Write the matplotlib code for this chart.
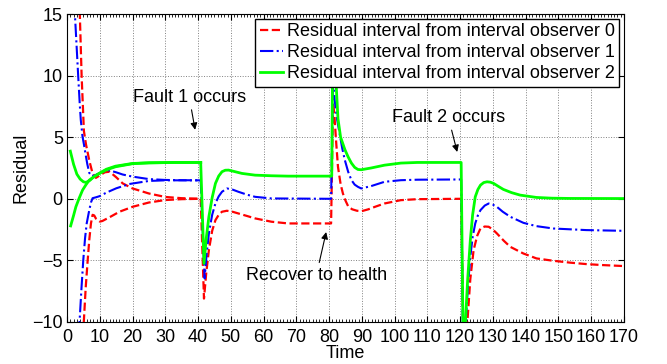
import matplotlib
matplotlib.use('Agg')
from matplotlib import pyplot as plt
from matplotlib.ticker import MultipleLocator

plt.rcParams['font.family'] = ['Liberation Sans', 'DejaVu Sans']
plt.rcParams['font.size'] = 13

# observer 0 (red) - interval bounds before fault 1
t_r_up = [3.5, 3.9, 4.45, 5.15, 5.8, 6.8, 7.8, 8.8, 10, 11.5, 13, 15, 17, 20, 25, 30, 35, 40.8]
r_up = [16.5, 15, 10, 5.5, 4.4, 3.1, 2.06, 1.7, 1.9, 2.15, 2.2, 1.75, 1.25, 0.84, 0.43, 0.15, 0.05, 0.0]
t_r_lo = [4.9, 5.2, 5.7, 6.3, 6.8, 7.3, 7.8, 8.3, 8.8, 10, 10.8, 13.3, 16, 20, 25, 30, 35, 40.8]
r_lo = [-11, -9.6, -7.2, -5.0, -3.3, -2.0, -1.3, -1.35, -1.6, -1.85, -1.8, -1.45, -1.05, -0.65, -0.3, -0.1, -0.03, 0.0]
# observer 0 after bounds merge
t_r = [40.8, 41.8, 42.5, 43.3, 44.3, 45.3, 46.3, 47.3, 48.8, 50.5, 52.3, 55, 57.4, 62.4, 67.5, 80.6,
       81.2, 81.6, 82.2, 82.7, 83.5, 84.2, 85, 85.8, 87, 88.5, 90, 92, 94, 96.9, 101.9, 106.9, 120.3,
       121.2, 122.2, 123.1, 124.1, 125.2, 126.2, 127.5, 128.7, 130, 131.2, 133.3, 135.3, 139.3, 143.3,
       148.4, 153.5, 158.5, 163.5, 170]
r = [0.0, -8.1, -6.0, -4.16, -2.6, -1.73, -1.3, -1.05, -0.97, -1.05, -1.19, -1.4, -1.59, -1.86, -2.0, -2.0,
     7.8, 6.8, 4.4, 2.6, 1.2, 0.44, -0.15, -0.6, -0.85, -0.97, -1.0, -0.85, -0.65, -0.38, -0.11, -0.03, 0.0,
     -15, -10, -6.5, -4.16, -3.0, -2.4, -2.25, -2.27, -2.5, -2.81, -3.4, -3.9, -4.44, -4.84,
     -5.03, -5.18, -5.3, -5.38, -5.46]

# observer 1 (blue)
t_b_up = [2.0, 2.4, 2.9, 3.4, 3.9, 4.2, 4.7, 5.3, 5.8, 6.2, 6.8, 7.5, 8.5, 10, 12, 13, 15, 17, 20, 25, 30, 35, 40.8]
b_up = [16, 15, 12.5, 10, 7.6, 6.4, 5.1, 4.2, 3.4, 2.8, 2.1, 1.85, 1.9, 2.1, 2.3, 2.3, 2.15, 1.97, 1.8, 1.6, 1.53, 1.51, 1.5]
t_b_lo = [3.6, 3.9, 4.4, 4.95, 5.5, 6.0, 6.8, 7.3, 7.8, 8.8, 10, 12, 15, 19, 25, 30, 40.8]
b_lo = [-11, -9.6, -7.3, -5.0, -3.2, -2.0, -0.9, -0.3, 0.05, 0.12, 0.22, 0.5, 0.85, 1.2, 1.45, 1.5, 1.5]
t_b = [40.8, 42.0, 42.6, 43.3, 44.3, 45.3, 46.3, 47.3, 48.8, 50.5, 52.3, 55, 57.4, 62.4, 80.6,
       81.2, 81.7, 82.4, 83.2, 84.0, 84.8, 85.8, 86.8, 87.8, 88.8, 89.8, 92.8, 96.9, 101.9, 106.9, 120.3,
       121.0, 121.7, 122.4, 123.1, 123.8, 124.6, 125.4, 126.2, 127.5, 128.7, 130, 131.2, 133, 135.3,
       139.3, 143.3, 148.4, 158.5, 170]
b = [1.5, -6.46, -4.5, -2.8, -1.3, -0.37, 0.2, 0.57, 0.84, 0.75, 0.57, 0.33, 0.16, 0.03, 0.0,
     10.0, 8.0, 6.5, 5.3, 4.1, 3.14, 2.2, 1.52, 1.15, 0.97, 0.84, 1.03, 1.38, 1.51, 1.55, 1.57,
     -15, -10, -7.0, -4.7, -3.1, -2.0, -1.35, -0.92, -0.55, -0.38, -0.48, -0.65, -1.05, -1.46,
     -1.95, -2.22, -2.41, -2.54, -2.6]

# observer 2 (green)
t_g_up = [1.0, 2.0, 3.0, 4.0, 5.0, 5.8, 7.0, 8.0, 9.8, 12, 14.8, 20, 25, 33, 40.8]
g_up = [3.87, 2.8, 2.0, 1.6, 1.38, 1.33, 1.5, 1.75, 2.06, 2.4, 2.65, 2.87, 2.92, 2.95, 2.95]
t_g_lo = [1.1, 2.0, 2.7, 3.7, 4.75, 5.8, 6.8, 8.8, 11.8, 14.8, 20, 25, 33, 40.8]
g_lo = [-2.2, -1.35, -0.65, 0.05, 0.71, 1.15, 1.52, 1.9, 2.33, 2.6, 2.85, 2.92, 2.95, 2.95]
t_g = [40.8, 41.8, 42.5, 43.3, 44.3, 45.3, 46.3, 47.3, 48.3, 49.3, 51, 53.4, 57.4, 62.4, 67.5, 80.8,
       81.1, 81.5, 82.2, 82.7, 83.5, 84.8, 85.8, 86.8, 87.8, 88.8, 89.8, 92.8, 96.9, 101.9, 106.9, 120.3,
       121.0, 121.6, 122.3, 123.1, 123.8, 124.6, 125.4, 126.2, 127.2, 128.2, 129.2, 130.2, 131.7, 133.2,
       135.7, 138.3, 143.3, 148, 153.4, 170]
g = [2.95, -5.25, -3.2, -1.45, 0.1, 1.25, 1.85, 2.2, 2.32, 2.33, 2.22, 2.06, 1.92, 1.87, 1.84, 1.84,
     12.5, 11.5, 9.0, 6.5, 5.0, 4.0, 3.4, 2.9, 2.55, 2.38, 2.36, 2.5, 2.73, 2.9, 2.95, 2.95,
     -14, -10, -6.5, -3.35, -1.3, 0.16, 0.75, 1.11, 1.32, 1.38, 1.35, 1.25, 1.0, 0.76,
     0.5, 0.3, 0.11, 0.05, 0.03, 0.02]

labels = ['Residual interval from interval observer 0',
          'Residual interval from interval observer 1',
          'Residual interval from interval observer 2']

fig = plt.figure(figsize=(6.67, 3.64), dpi=100)
ax = fig.add_axes([0.1005, 0.1154, 0.835, 0.8461])

red = dict(color=(1, 0, 0), ls='--', lw=1.6)
blue = dict(color=(0, 0, 1), ls='-.', lw=1.5)
green = dict(color=(0, 1, 0), ls='-', lw=2.0)

l0, = ax.plot(t_r, r, **red)
ax.plot(t_r_up, r_up, **red)
ax.plot(t_r_lo, r_lo, **red)
l1, = ax.plot(t_b, b, **blue)
ax.plot(t_b_up, b_up, **blue)
ax.plot(t_b_lo, b_lo, **blue)
l2, = ax.plot(t_g, g, **green)
ax.plot(t_g_up, g_up, **green)
ax.plot(t_g_lo, g_lo, **green)

ax.set_xlim(0, 170)
ax.set_ylim(-10, 15)
ax.xaxis.set_major_locator(MultipleLocator(10))
ax.xaxis.set_minor_locator(MultipleLocator(1))
ax.yaxis.set_major_locator(MultipleLocator(5))
ax.tick_params(which='both', direction='in', top=True, right=True)
ax.tick_params(which='major', length=4)
ax.tick_params(axis='x', which='major', pad=5)
ax.tick_params(axis='y', which='major', pad=3)
ax.tick_params(which='minor', length=2)
ax.grid(True, which='major', ls=':', color='#808080', lw=0.7)
ax.set_xlabel('Time', labelpad=-1)
ax.set_ylabel('Residual', labelpad=2)

leg = ax.legend([l0, l1, l2], labels, loc='upper right', fontsize=13,
                handlelength=1.3, handletextpad=0.2, labelspacing=0.22,
                borderpad=0.25, borderaxespad=0.25, fancybox=False, framealpha=1)
leg.get_frame().set_edgecolor('k')
leg.get_frame().set_linewidth(1.0)

arrow = dict(arrowstyle='-|>', color='k', lw=0.8, mutation_scale=10,
             shrinkA=1, shrinkB=0)
ax.annotate('Fault 1 occurs', xy=(39.1, 5.6), xytext=(37.3, 8.25),
            ha='center', va='center', arrowprops=arrow)
ax.annotate('Fault 2 occurs', xy=(119.1, 3.8), xytext=(116.4, 6.6),
            ha='center', va='center', arrowprops=arrow)
ax.annotate('Recover to health', xy=(79.1, -2.7), xytext=(76.1, -6.2),
            ha='center', va='center', arrowprops=arrow)

fig.savefig('out.png', dpi=100)
